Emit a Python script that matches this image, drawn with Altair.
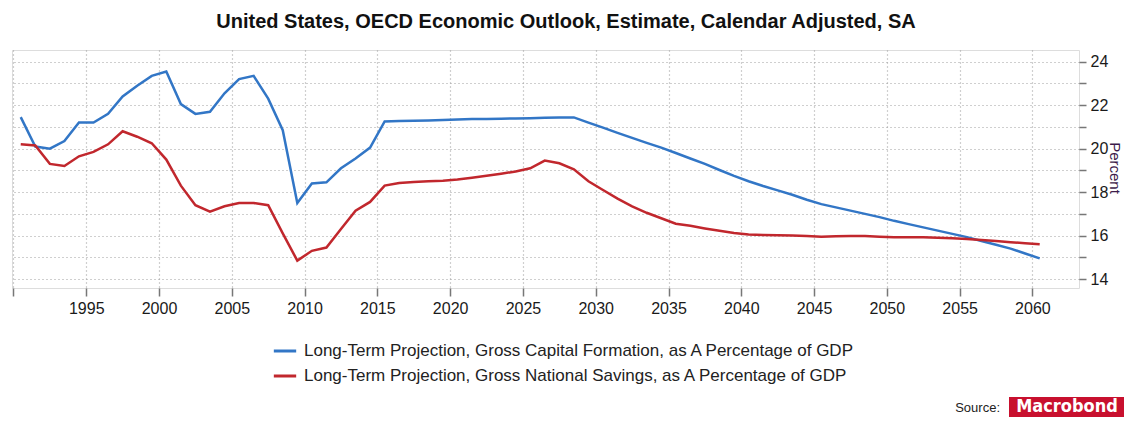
import altair as alt
import pandas as pd

years = list(range(1990, 2061))

capital_formation = [
    21.45, 20.1, 20.0, 20.35, 21.2, 21.2, 21.6, 22.4, 22.9, 23.35,
    23.55, 22.05, 21.6, 21.7, 22.55, 23.2, 23.35, 22.3, 20.85, 17.5,
    18.4, 18.45, 19.1, 19.55, 20.05, 21.25, 21.27, 21.28, 21.3, 21.32,
    21.34, 21.36, 21.37, 21.38, 21.39, 21.4, 21.42, 21.43, 21.44, 21.2,
    20.97, 20.73, 20.5, 20.27, 20.05, 19.8, 19.55, 19.3, 19.02, 18.75,
    18.5, 18.28, 18.08, 17.88, 17.65, 17.45, 17.3, 17.15, 17.0, 16.85,
    16.68, 16.53, 16.38, 16.23, 16.08, 15.93, 15.75, 15.58, 15.4, 15.18,
    14.95,
]

national_savings = [
    20.2, 20.15, 19.3, 19.2, 19.65, 19.85, 20.2, 20.8, 20.55, 20.25,
    19.5, 18.3, 17.4, 17.1, 17.35, 17.5, 17.5, 17.4, 16.1, 14.85,
    15.3, 15.45, 16.3, 17.15, 17.55, 18.3, 18.42, 18.47, 18.5, 18.53,
    18.58, 18.66, 18.75, 18.85, 18.95, 19.1, 19.45, 19.33, 19.05, 18.5,
    18.1, 17.7, 17.35, 17.05, 16.8, 16.55, 16.45, 16.33, 16.22, 16.12,
    16.05, 16.03, 16.02, 16.0, 15.98, 15.95, 15.97, 15.98, 15.98, 15.95,
    15.93, 15.92, 15.93, 15.9, 15.88, 15.85, 15.8, 15.75, 15.7, 15.65,
    15.6,
]

series_names = [
    "Long-Term Projection, Gross Capital Formation, as A Percentage of GDP",
    "Long-Term Projection, Gross National Savings, as A Percentage of GDP",
]
series_colors = ["#3276c6", "#c1272d"]

x_ticks = list(range(1990, 2061, 5))
y_ticks = list(range(14, 25))

title_text = "United States, OECD Economic Outlook, Estimate, Calendar Adjusted, SA"
y_title = "Percent"
source_text = "Source:"
logo_text = "Macrobond"

FONT = "Liberation Sans"

df = pd.DataFrame({
    "year": years * 2,
    "value": capital_formation + national_savings,
    "series": [series_names[0]] * len(years) + [series_names[1]] * len(years),
})

lines = alt.Chart(df).transform_calculate(
    t="datum.year + 0.5"
).mark_line(strokeWidth=2.5).encode(
    x=alt.X(
        "t:Q",
        scale=alt.Scale(domain=[1989.9, 2063.2], nice=False, zero=False),
        axis=alt.Axis(
            title=None, values=x_ticks, format="d",
            labelExpr="datum.value == 1990 ? '' : datum.label",
            grid=True, gridColor="#a0a0a0", gridDash=[1, 3], gridWidth=1.2,
            domain=False, tickColor="#777", tickWidth=1.5, tickSize=8,
            labelFont=FONT, labelFontSize=16, labelColor="#1a1a1a", labelPadding=4,
        ),
    ),
    y=alt.Y(
        "value:Q",
        scale=alt.Scale(domain=[13.59, 24.54], nice=False, zero=False),
        axis=alt.Axis(
            title=None, orient="right", values=y_ticks,
            labelExpr="datum.value % 2 == 0 ? datum.label : ''",
            grid=True, gridColor="#a0a0a0", gridDash=[1, 3], gridWidth=1.2,
            domain=False, tickColor="#777", tickWidth=1.5, tickSize=7,
            labelFont=FONT, labelFontSize=16, labelColor="#1a1a1a", labelPadding=4,
        ),
    ),
    color=alt.Color(
        "series:N",
        scale=alt.Scale(domain=series_names, range=series_colors),
        legend=alt.Legend(
            title=None, orient="none", legendX=260, legendY=288,
            direction="vertical", symbolType="stroke", symbolSize=500,
            symbolStrokeWidth=3, labelFont=FONT, labelFontSize=17,
            labelColor="#222", labelLimit=0, labelOffset=6, rowPadding=4,
        ),
    ),
)

title = alt.Chart(pd.DataFrame({"t": [title_text]})).mark_text(
    font=FONT, fontSize=20, fontWeight="bold", color="#111", align="center", baseline="middle"
).encode(text="t:N", x=alt.value(554), y=alt.value(-28))

ytitle = alt.Chart(pd.DataFrame({"t": [y_title]})).mark_text(
    font=FONT, fontSize=15, color="#3c1a4a", angle=90, align="center", baseline="alphabetic"
).encode(text="t:N", x=alt.value(1098), y=alt.value(118))

source = alt.Chart(pd.DataFrame({"t": [source_text]})).mark_text(
    font=FONT, fontSize=13, color="#222", align="right", baseline="middle"
).encode(text="t:N", x=alt.value(988), y=alt.value(358))

logo_box = alt.Chart(pd.DataFrame({"t": [logo_text]})).mark_rect(color="#c8102e").encode(
    x=alt.value(997), x2=alt.value(1112), y=alt.value(347), y2=alt.value(367)
)

logo = alt.Chart(pd.DataFrame({"t": [logo_text]})).mark_text(
    font="DejaVu Sans Condensed", fontSize=18, fontWeight="bold", color="white",
    align="center", baseline="middle"
).encode(text="t:N", x=alt.value(1055), y=alt.value(357))

chart = alt.layer(lines, title, ytitle, source, logo_box, logo).properties(
    width=1067, height=238,
    padding={"left": 4, "top": 42, "right": 45, "bottom": 129},
    autosize=alt.AutoSizeParams(type="none"),
).configure_view(stroke="#a0a0a0", strokeWidth=1.5).configure(background="white")

chart.save("out.html", embed_options={"renderer": "svg", "actions": False})
